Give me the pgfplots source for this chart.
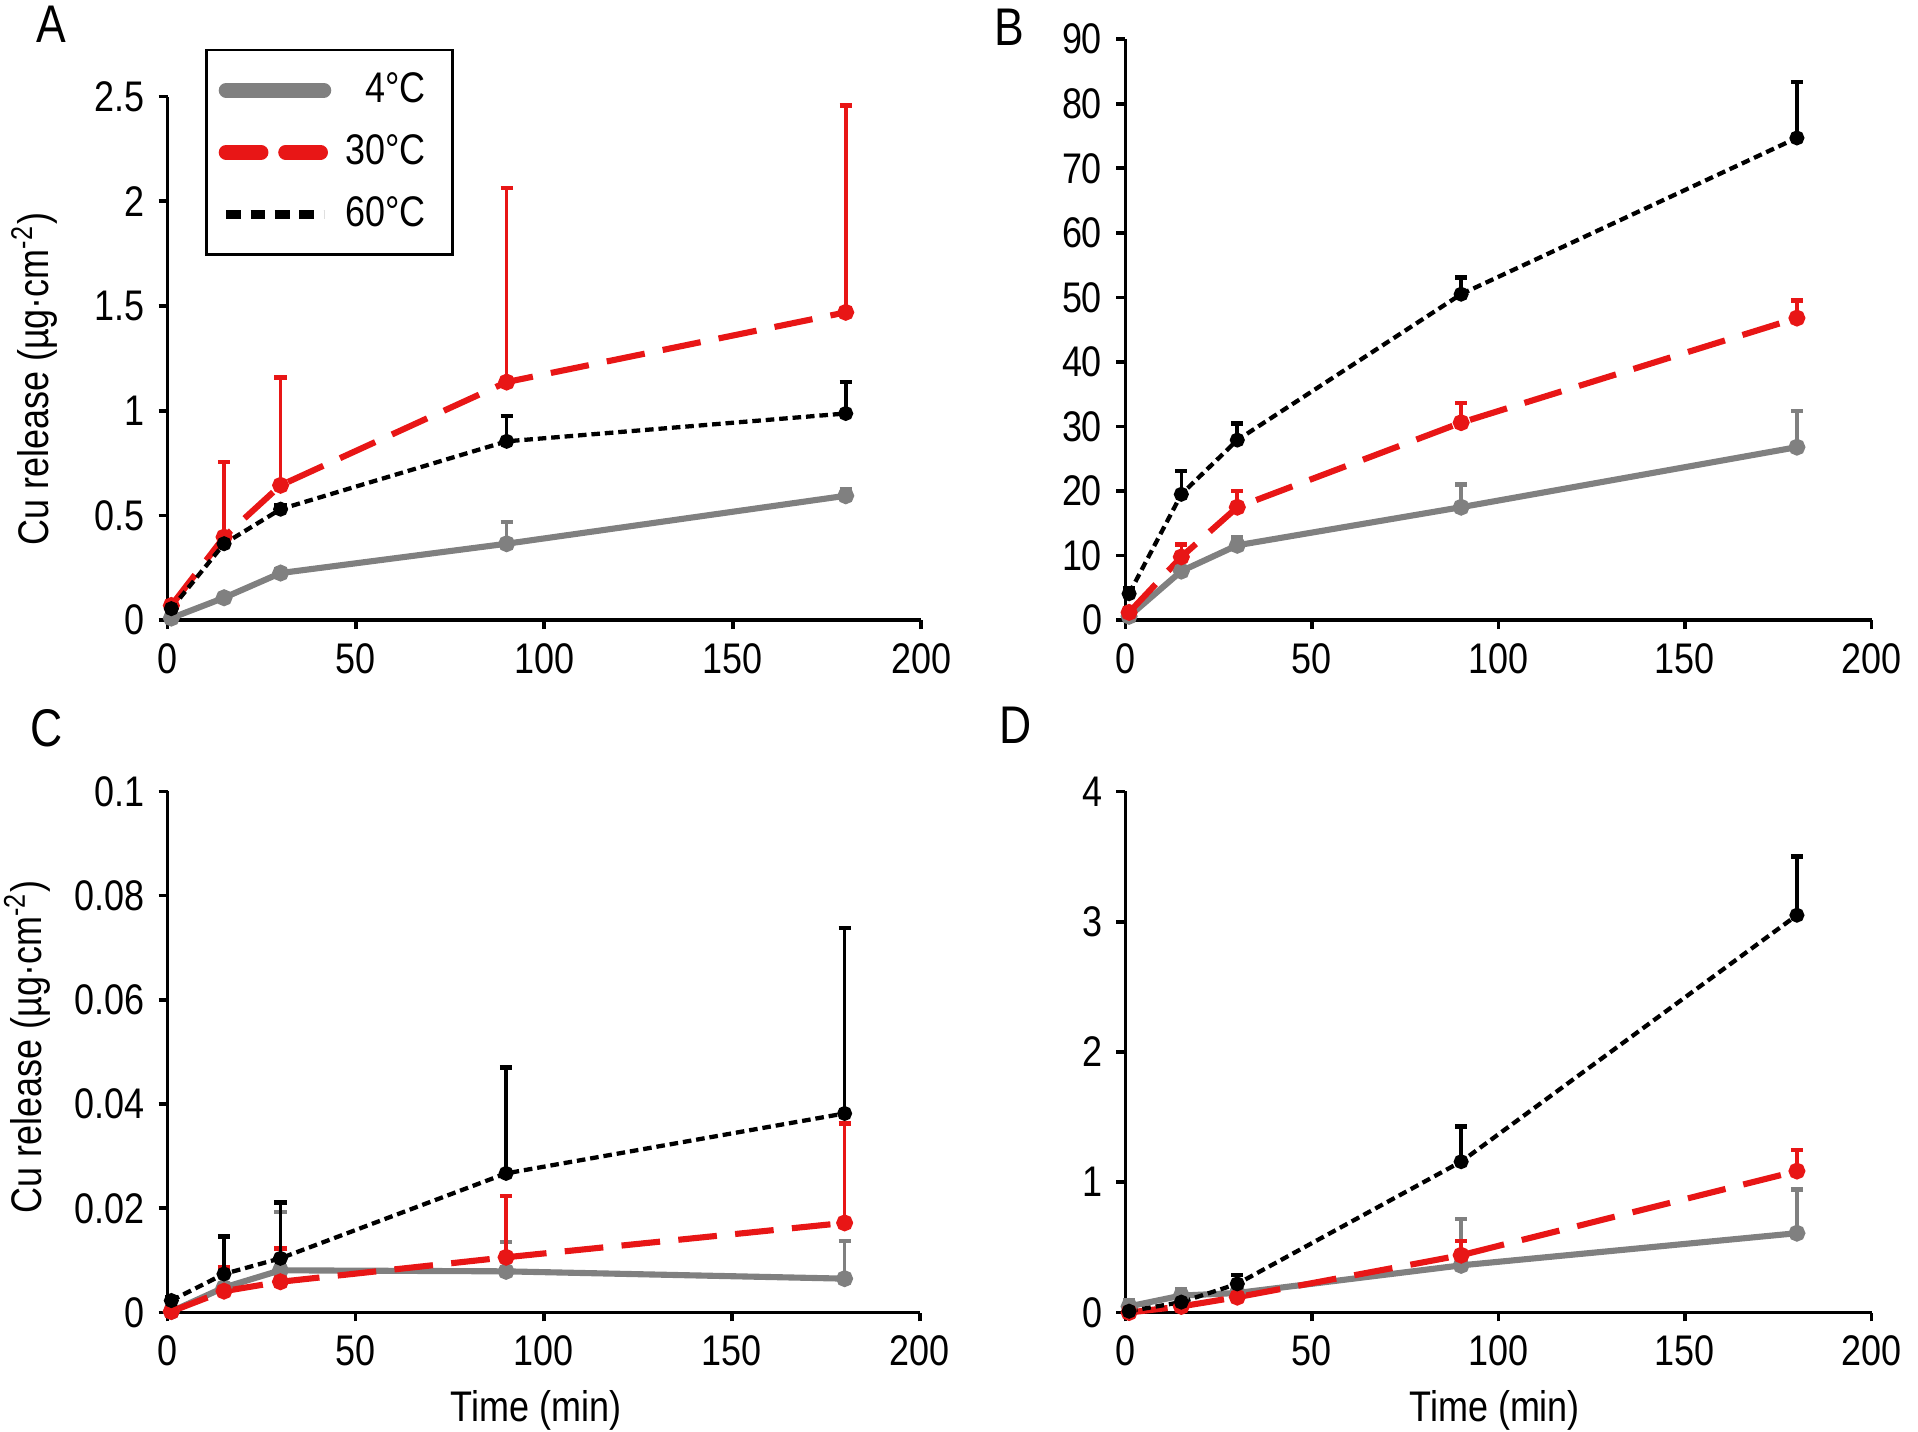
\documentclass[border=0pt]{standalone}
\usepackage{fontspec}
\setmainfont{Liberation Sans}[FakeStretch=0.84]
\usepackage{pgfplots}
\usepackage{pgfplotstable}
\pgfplotsset{compat=1.18}

\definecolor{cgray}{RGB}{128,128,128}
\definecolor{cred}{RGB}{232,22,22}

% t, mean and upper error for 4, 30 and 60 C
\pgfplotstableread{
t   g      ge     r      re     k      ke
1   0.010  0      0.070  0      0.055  0
15  0.107  0      0.397  0.358  0.365  0
30  0.225  0.020  0.644  0.515  0.530  0.020
90  0.365  0.103  1.137  0.927  0.854  0.122
180 0.594  0.033  1.470  0.987  0.987  0.150
}\dataA
\pgfplotstableread{
t   g      ge     r      re     k      ke
1   0.6    0.3    1.2    0.4    4.1    0.8
15  7.6    0      9.8    1.9    19.5   3.6
30  11.6   1.3    17.5   2.5    27.9   2.6
90  17.5   3.5    30.6   3.0    50.5   2.6
180 26.8   5.6    46.8   2.7    74.7   8.7
}\dataB
\pgfplotstableread{
t   g       ge      r       re      k       ke
1   0.0002  0       0.0002  0       0.0023  0.0007
15  0.0048  0       0.0041  0.0045  0.0074  0.0072
30  0.0081  0.0112  0.0059  0.0064  0.0104  0.0107
90  0.0079  0.0056  0.0106  0.0118  0.0267  0.0203
180 0.0065  0.0072  0.0172  0.0191  0.0382  0.0356
}\dataC
\pgfplotstableread{
t   g      ge     r      re     k      ke
1   0.047  0.050  0.000  0      0.010  0
15  0.130  0.050  0.047  0      0.080  0
30  0.150  0      0.118  0      0.220  0.067
90  0.362  0.355  0.440  0.108  1.158  0.269
180 0.609  0.334  1.086  0.161  3.050  0.450
}\dataD

\pgfplotsset{
  panel/.style={
    scale only axis, axis lines=left,
    axis line style={line width=0.9pt, -},
    xmin=0, xmax=200, xtick={0,50,...,200}, ymin=0,
    tick style={line width=0.9pt, black}, tick align=outside,
    major tick length=2.2pt,
    tick label style={font=\fontsize{10.5}{12}\selectfont},
    /pgf/number format/assume math mode=true,
    label style={font=\fontsize{10.5}{12}\selectfont},
    clip=false,
  },
  ebar/.style={error bars/.cd, y dir=plus, y explicit,
    error bar style={line width=0.9pt, solid},
    error mark options={rotate=90, line width=1.1pt, mark size=1.5pt, solid}},
  s4/.style={cgray, line width=1.5pt, mark=*, mark size=1.3pt, mark options={solid}},
  s30/.style={cred, line width=1.5pt, dash pattern=on 9.5pt off 4.5pt, mark=*, mark size=1.3pt, mark options={solid}},
  s60/.style={black, line width=1.05pt, dash pattern=on 2.1pt off 1.2pt, mark=*, mark size=1.3pt, mark options={solid}},
}

\newcommand{\threeseries}[1]{%
  \addplot[s4, forget plot, ebar] table[x=t, y=g, y error=ge] {#1};
  \addplot[s30, forget plot, ebar] table[x=t, y=r, y error=re] {#1};
  \addplot[s60, forget plot, ebar] table[x=t, y=k, y error=ke] {#1};
}

\begin{document}
\begin{tikzpicture}
\useasboundingbox (0,0) rectangle (470.4pt,351pt);

% A
\begin{axis}[panel, at={(41.1pt,198.9pt)}, anchor=south west,
  width=184.8pt, height=128.4pt, ymax=2.5, ytick={0,0.5,...,2.5},
  ylabel={Cu release (µg·cm\textsuperscript{-2})},
  ylabel style={at={(axis description cs:-0.177,0.46)}, anchor=center},
  legend image code/.code={\draw[#1] (0pt,0pt) -- (24pt,0pt);},
  legend style={at={(rel axis cs:0.05,1.091)}, anchor=north west,
    draw=black, line width=0.6pt, font=\fontsize{10.5}{12}\selectfont,
    row sep=2.4pt, inner xsep=3pt, inner ysep=3.4pt,
    nodes={inner xsep=3.5pt}},
  legend cell align=right]
  \addlegendimage{cgray, line width=3.6pt, line cap=round}
  \addlegendentry{4°C}
  \addlegendimage{cred, line width=3.6pt, dash pattern=on 8.6pt off 6pt, line cap=round}
  \addlegendentry{30°C}
  \addlegendimage{black, line width=2.4pt, dash pattern=on 3.6pt off 2.4pt}
  \addlegendentry{60°C}
  \threeseries{\dataA}
\end{axis}

% B
\begin{axis}[panel, at={(276pt,198.9pt)}, anchor=south west,
  width=183pt, height=142.5pt, ymax=90, ytick={0,10,...,90}]
  \threeseries{\dataB}
\end{axis}

% C
\begin{axis}[panel, at={(41.1pt,29.1pt)}, anchor=south west,
  width=184.5pt, height=127.8pt, ymax=0.1, ytick={0,0.02,...,0.1},
  scaled y ticks=false,
  yticklabel style={/pgf/number format/fixed, /pgf/number format/precision=2},
  ylabel={Cu release (µg·cm\textsuperscript{-2})},
  ylabel style={at={(axis description cs:-0.187,0.51)}, anchor=center},
  xlabel={Time (min)},
  xlabel style={at={(axis description cs:0.49,-0.188)}, anchor=center}]
  \threeseries{\dataC}
\end{axis}

% D
\begin{axis}[panel, at={(276pt,29.1pt)}, anchor=south west,
  width=183pt, height=127.8pt, ymax=4, ytick={0,1,...,4},
  xlabel={Time (min)},
  xlabel style={at={(axis description cs:0.495,-0.188)}, anchor=center}]
  \threeseries{\dataD}
\end{axis}

\node[font=\fontsize{13}{15}\selectfont] at (12.6pt,345pt) {A};
\node[font=\fontsize{13}{15}\selectfont] at (247.5pt,344.4pt) {B};
\node[font=\fontsize{13}{15}\selectfont] at (11.4pt,172.5pt) {C};
\node[font=\fontsize{13}{15}\selectfont] at (249pt,173.1pt) {D};
\end{tikzpicture}
\end{document}
